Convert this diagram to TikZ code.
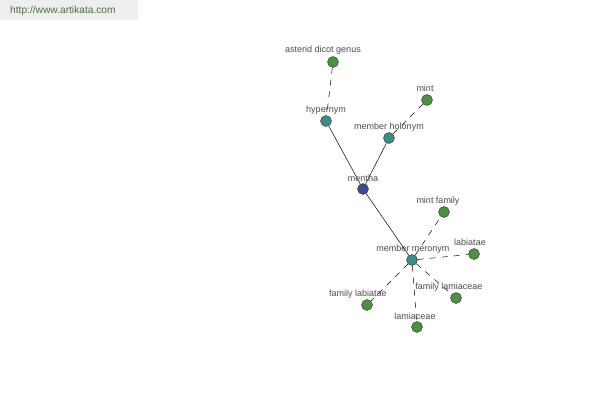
\documentclass[tikz,border=0pt]{standalone}
\usepackage{fontspec}
\setmainfont{Liberation Sans}
\begin{document}
\begin{tikzpicture}[x=1pt,y=-1pt,
  vtx/.style={circle,draw=black!80,line width=0.4pt,minimum size=11pt,inner sep=0pt},
  leaf/.style={vtx,fill=leafc},
  rel/.style={vtx,fill=relc},
  core/.style={vtx,fill=corec},
  lbl/.style={font=\fontsize{9}{10}\selectfont,text=black!70,inner sep=0pt},
  solidedge/.style={draw=black,line width=0.5pt},
  dashedge/.style={draw=black,line width=0.5pt,dash pattern=on 6pt off 6pt}]
\definecolor{leafc}{HTML}{4E8F45}
\definecolor{relc}{HTML}{3E8C86}
\definecolor{corec}{HTML}{3D4A8E}
\definecolor{wmbg}{HTML}{EEEEEE}
\definecolor{wmtext}{HTML}{4F6B45}
\useasboundingbox[fill=white] (0,0) rectangle (600,400);
\fill[wmbg] (0,0) rectangle (138,20);
\node[font=\fontsize{10.2}{12}\selectfont,text=wmtext,anchor=west,inner sep=0pt] (wm) at (10,11) {http://www.artikata.com};
% nodes
\node[leaf] (asterid) at (333,62) {};
\node[rel] (hyper) at (326,121) {};
\node[leaf] (mint) at (427,100) {};
\node[rel] (holo) at (389,138) {};
\node[core] (mentha) at (363,189) {};
\node[leaf] (mintfam) at (444,212) {};
\node[rel] (mero) at (412,260) {};
\node[leaf] (labiatae) at (474,254) {};
\node[leaf] (famlam) at (456,298) {};
\node[leaf] (famlab) at (367,305) {};
\node[leaf] (lamiaceae) at (417,327) {};
% edges
\draw[solidedge] (hyper) -- (mentha);
\draw[solidedge] (holo) -- (mentha);
\draw[solidedge] (mentha) -- (mero);
\draw[dashedge] (asterid) -- (hyper);
\draw[dashedge] (mint) -- (holo);
\draw[dashedge] (mero) -- (mintfam);
\draw[dashedge] (mero) -- (labiatae);
\draw[dashedge] (mero) -- (famlam);
\draw[dashedge] (mero) -- (famlab);
\draw[dashedge] (mero) -- (lamiaceae);
% labels
\node[lbl] (l1) at (323,50) {asterid dicot genus};
\node[lbl] (l2) at (326,110) {hypernym};
\node[lbl] (l3) at (425,88) {mint};
\node[lbl] (l4) at (389,127) {member holonym};
\node[lbl] (l5) at (363,178) {mentha};
\node[lbl] (l6) at (438,201) {mint family};
\node[lbl] (l7) at (413,249) {member meronym};
\node[lbl] (l8) at (470,242) {labiatae};
\node[lbl] (l9) at (449,287) {family lamiaceae};
\node[lbl] (l10) at (358,294) {family labiatae};
\node[lbl] (l11) at (415,316) {lamiaceae};
\end{tikzpicture}
\end{document}
